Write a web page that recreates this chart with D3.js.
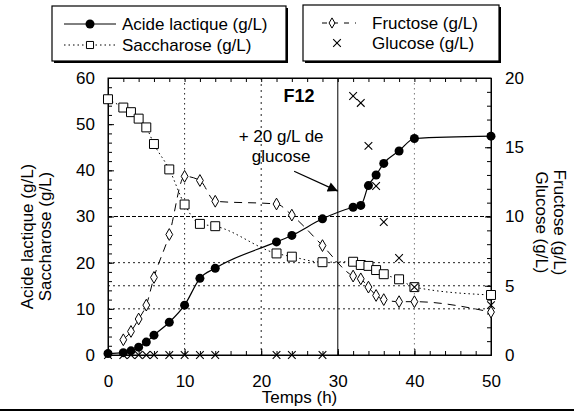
<!DOCTYPE html>
<html>
<head>
	<meta charset="utf-8">
	<title>F12</title>
	<script type="text/javascript" src="https://cdn.jsdelivr.net/npm/d3@7"></script>
	<style>
		body {
			margin: 0;
			background: #fff;
			font-family: "Liberation Sans", Arial, Helvetica, sans-serif;
		}
	</style>
</head>

<body>

	<div id="chart"></div>

	<script>

	// data

	const temps      = [0, 2, 3, 4, 5, 6, 8, 10, 12, 14, 22, 24, 28, 32, 33, 34, 35, 36, 38, 40, 50];
	const lactique   = [0.3, 0.5, 0.9, 1.7, 2.8, 4.3, 7.1, 10.8, 16.6, 18.8, 24.5, 25.9, 29.5, 32.0, 32.4, 36.7, 39.0, 41.5, 44.2, 46.9, 47.4];
	const saccharose = [55.4, 53.6, 52.6, 51.2, 49.3, 45.7, 40.2, 32.6, 28.4, 27.9, 22.0, 21.3, 20.1, 20.2, 19.5, 19.3, 18.4, 17.5, 16.4, 14.7, 13.0];

	const tempsFructose = [2, 3, 4, 5, 6, 8, 10, 12, 14, 22, 24, 28, 32, 33, 34, 35, 36, 38, 40, 50];
	const fructose      = [1.1, 1.7, 2.6, 3.6, 5.6, 8.7, 12.9, 12.6, 11.1, 10.9, 10.1, 7.9, 5.7, 5.5, 4.9, 4.3, 4.0, 3.85, 3.85, 3.1];

	const tempsGlucose = [0, 2, 3, 4, 5, 6, 8, 10, 12, 14, 22, 24, 28, 32, 33, 34, 35, 36, 38, 40, 50];
	const glucose      = [0, 0, 0, 0, 0, 0, 0, 0, 0, 0, 0, 0, 0, 18.7, 18.2, 15.1, 12.2, 9.6, 7.0, 4.9, 3.6];

	const xTicks      = [0, 10, 20, 30, 40, 50];
	const yLeftTicks  = [0, 10, 20, 30, 40, 50, 60];
	const yRightTicks = [0, 5, 10, 15, 20];

	const xLabel      = "Temps (h)";
	const yLeftLabel  = ["Acide lactique (g/L)", "Saccharose (g/L)"];
	const yRightLabel = ["Fructose (g/L)", "Glucose (g/L)"];
	const legendLeft  = ["Acide lactique (g/L)", "Saccharose (g/L)"];
	const legendRight = ["Fructose (g/L)", "Glucose (g/L)"];

	const titre      = "F12";
	const noteLignes = ["+ 20 g/L de", "glucose"];

	// layout

	const width    = 574;
	const height   = 412;
	const fontSize = "17px";

	const x  = d3.scaleLinear([0, 50], [108, 491]);
	const yL = d3.scaleLinear([0, 60], [355, 78]);
	const yR = d3.scaleLinear([0, 20], [355, 78]);

	const svg = d3.select("#chart")
		.append("svg")
		.attr("width", width)
		.attr("height", height)
		.attr("viewBox", [0, 0, width, height])
		.style("font-family", '"Liberation Sans", Arial, Helvetica, sans-serif');

	const [x0, x1] = x.range();
	const [yb, yt] = yL.range();

	// grid
	const grid = svg.append("g").attr("fill", "none");
	grid.append("line")
		.attr("x1", x0).attr("x2", x1).attr("y1", yL(30)).attr("y2", yL(30))
		.attr("stroke", "#000").attr("stroke-dasharray", "4,2");
	[10, 15, 20].forEach(v => grid.append("line")
		.attr("x1", x0).attr("x2", x1).attr("y1", yL(v)).attr("y2", yL(v))
		.attr("stroke", "#222").attr("stroke-dasharray", "2,3"));
	[10, 20, 40].forEach(v => grid.append("line")
		.attr("x1", x(v)).attr("x2", x(v)).attr("y1", yt).attr("y2", yb)
		.attr("stroke", v == 40 ? "#777" : "#222").attr("stroke-dasharray", v == 20 ? "2,4" : "1.5,3.5"));
	grid.append("line")
		.attr("x1", x(30)).attr("x2", x(30)).attr("y1", yt).attr("y2", yb)
		.attr("stroke", "#000");

	// axes, ticks pointing inward
	function axisStyle(g) {
		g.style("font-size", fontSize).attr("font-family", null);
		g.selectAll("text").attr("fill", "#000");
		g.selectAll("line, path").attr("stroke", "#000");
	}
	const noLabel = () => "";

	svg.append("g").attr("transform", `translate(0,${yb})`)
		.call(d3.axisBottom(x).tickValues(xTicks).tickSize(-6).tickSizeOuter(0).tickPadding(20))
		.call(axisStyle);
	svg.append("g").attr("transform", `translate(0,${yb})`)
		.call(d3.axisBottom(x).tickValues(d3.range(0, 51, 2)).tickSize(-4).tickSizeOuter(0).tickFormat(noLabel))
		.call(axisStyle);
	svg.append("g").attr("transform", `translate(0,${yt})`)
		.call(d3.axisTop(x).tickValues(d3.range(0, 51, 2)).tickSize(-4).tickSizeOuter(0).tickFormat(noLabel))
		.call(axisStyle);

	svg.append("g").attr("transform", `translate(${x0},0)`)
		.call(d3.axisLeft(yL).tickValues(yLeftTicks).tickSize(-6).tickSizeOuter(0).tickPadding(13))
		.call(axisStyle);
	svg.append("g").attr("transform", `translate(${x0},0)`)
		.call(d3.axisLeft(yL).tickValues(d3.range(0, 61, 2)).tickSize(-4).tickSizeOuter(0).tickFormat(noLabel))
		.call(axisStyle);

	svg.append("g").attr("transform", `translate(${x1},0)`)
		.call(d3.axisRight(yR).tickValues(yRightTicks).tickSize(-6).tickSizeOuter(0).tickPadding(14))
		.call(axisStyle);
	svg.append("g").attr("transform", `translate(${x1},0)`)
		.call(d3.axisRight(yR).tickValues(d3.range(0, 21, 1)).tickSize(-4).tickSizeOuter(0).tickFormat(noLabel))
		.call(axisStyle);

	svg.append("rect")
		.attr("x", x0).attr("y", yt).attr("width", x1 - x0).attr("height", yb - yt)
		.attr("fill", "none").attr("stroke", "#000");

	// axis titles
	svg.append("text")
		.attr("x", (x0 + x1) / 2).attr("y", 403)
		.attr("text-anchor", "middle").style("font-size", fontSize)
		.text(xLabel);

	yLeftLabel.forEach((t, i) => svg.append("text")
		.attr("transform", `translate(${33 + i * 18},${(yt + yb) / 2 + 20}) rotate(-90)`)
		.attr("text-anchor", "middle").style("font-size", fontSize)
		.text(t));

	yRightLabel.forEach((t, i) => svg.append("text")
		.attr("transform", `translate(${554 - i * 18},${(yt + yb) / 2 + 6}) rotate(90)`)
		.attr("text-anchor", "middle").style("font-size", fontSize)
		.text(t));

	// series
	const lineL = d3.line().curve(d3.curveMonotoneX).x(d => x(d[0])).y(d => yL(d[1]));
	const lineR = d3.line().curve(d3.curveMonotoneX).x(d => x(d[0])).y(d => yR(d[1]));

	const ptsLactique   = d3.zip(temps, lactique);
	const ptsSaccharose = d3.zip(temps, saccharose);
	const ptsFructose   = d3.zip(tempsFructose, fructose);
	const ptsGlucose    = d3.zip(tempsGlucose, glucose);

	svg.append("path").attr("d", lineL(ptsSaccharose))
		.attr("fill", "none").attr("stroke", "#000").attr("stroke-dasharray", "1.5,3");
	svg.append("path").attr("d", lineR(ptsFructose))
		.attr("fill", "none").attr("stroke", "#000").attr("stroke-dasharray", "8,6");
	svg.append("path").attr("d", lineL(ptsLactique))
		.attr("fill", "none").attr("stroke", "#000").attr("stroke-width", 1.2);

	const square  = d3.symbol(d3.symbolSquare, 80);
	const diamond = d3.symbol(d3.symbolDiamond, 40);
	const cross   = d3.symbol(d3.symbolTimes, 40);

	svg.append("g").selectAll("path").data(ptsSaccharose).join("path")
		.attr("transform", d => `translate(${x(d[0])},${yL(d[1])})`)
		.attr("d", square).attr("fill", "#fff").attr("stroke", "#000");
	svg.append("g").selectAll("path").data(ptsFructose).join("path")
		.attr("transform", d => `translate(${x(d[0])},${yR(d[1])})`)
		.attr("d", diamond).attr("fill", "#fff").attr("stroke", "#000");
	svg.append("g").selectAll("path").data(ptsGlucose).join("path")
		.attr("transform", d => `translate(${x(d[0])},${yR(d[1])})`)
		.attr("d", cross).attr("fill", "none").attr("stroke", "#000").attr("stroke-width", 1.1);
	svg.append("g").selectAll("circle").data(ptsLactique).join("circle")
		.attr("cx", d => x(d[0])).attr("cy", d => yL(d[1]))
		.attr("r", 4.5).attr("fill", "#000");

	// annotation
	svg.append("text")
		.attr("x", x(22.9)).attr("y", yL(54.8))
		.style("font-size", "18px").attr("font-weight", "bold")
		.text(titre);
	noteLignes.forEach((t, i) => svg.append("text")
		.attr("x", x(22.6)).attr("y", yL(46.1 - i * 4.3))
		.attr("text-anchor", "middle").style("font-size", fontSize)
		.text(t));

	svg.append("defs").append("marker")
		.attr("id", "fleche")
		.attr("viewBox", "0 0 10 10")
		.attr("refX", 10).attr("refY", 5)
		.attr("markerWidth", 14).attr("markerHeight", 10)
		.attr("markerUnits", "userSpaceOnUse")
		.attr("orient", "auto")
		.append("path").attr("d", "M0,0L10,5L0,10Z").attr("fill", "#000");
	svg.append("line")
		.attr("x1", x(24.3)).attr("y1", yL(39.8))
		.attr("x2", x(30)).attr("y2", yL(35.5))
		.attr("stroke", "#000").attr("stroke-width", 1.3)
		.attr("marker-end", "url(#fleche)");

	// legends
	function legendBox(x, y, w, h) {
		svg.append("rect").attr("x", x + 2).attr("y", y + 2).attr("width", w).attr("height", h).attr("fill", "#000");
		svg.append("rect").attr("x", x).attr("y", y).attr("width", w).attr("height", h)
			.attr("fill", "#fff").attr("stroke", "#000").attr("stroke-width", 1.2);
	}

	legendBox(52, 6, 234, 55);
	svg.append("line").attr("x1", 64).attr("x2", 116).attr("y1", 24).attr("y2", 24).attr("stroke", "#000");
	svg.append("circle").attr("cx", 90).attr("cy", 24).attr("r", 4.5).attr("fill", "#000");
	svg.append("line").attr("x1", 64).attr("x2", 116).attr("y1", 45).attr("y2", 45)
		.attr("stroke", "#000").attr("stroke-dasharray", "1.5,3");
	svg.append("path").attr("transform", "translate(90,45)").attr("d", d3.symbol(d3.symbolSquare, 50))
		.attr("fill", "#fff").attr("stroke", "#000");
	legendLeft.forEach((t, i) => svg.append("text")
		.attr("x", 122).attr("y", 30 + i * 21).style("font-size", fontSize).text(t));

	legendBox(303, 5, 196, 56);
	svg.append("line").attr("x1", 322).attr("x2", 356).attr("y1", 23).attr("y2", 23)
		.attr("stroke", "#000").attr("stroke-dasharray", "5,6");
	svg.append("path").attr("transform", "translate(332,23)").attr("d", d3.symbol(d3.symbolDiamond, 30))
		.attr("fill", "#fff").attr("stroke", "#000");
	svg.append("path").attr("transform", "translate(337,43)").attr("d", d3.symbol(d3.symbolTimes, 40))
		.attr("fill", "none").attr("stroke", "#000").attr("stroke-width", 1.1);
	legendRight.forEach((t, i) => svg.append("text")
		.attr("x", 372).attr("y", 29 + i * 20).style("font-size", fontSize).text(t));

	// scan edge at the bottom
	svg.append("line").attr("x1", 0).attr("x2", width).attr("y1", 410).attr("y2", 410)
		.attr("stroke", "#000").attr("stroke-width", 2);

	</script>

</body>

</html>
